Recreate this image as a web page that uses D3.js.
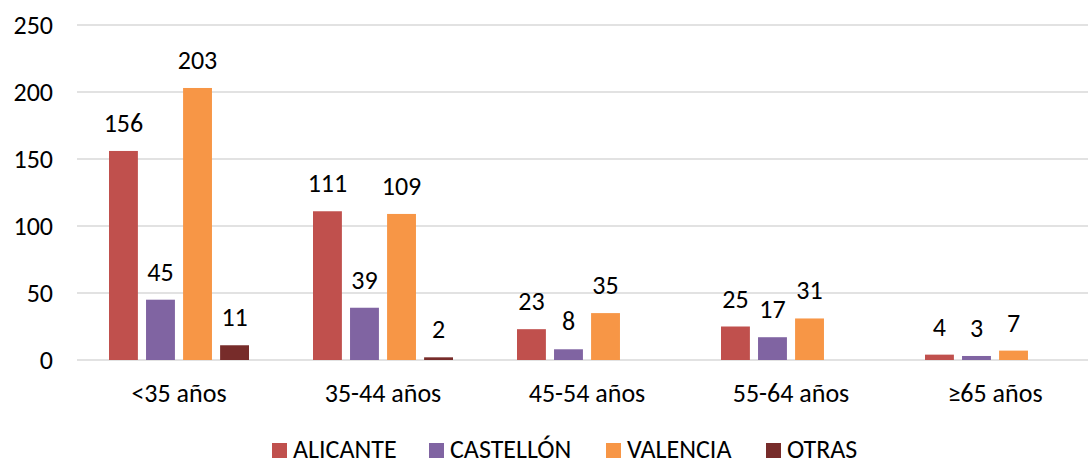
<!DOCTYPE html>
<html><head><meta charset="utf-8">
<script src="https://cdn.jsdelivr.net/npm/d3@7"></script>
<style>body{margin:0;background:#fff}svg{display:block}text{font-family:Carlito,Calibri,Lato,"Noto Sans",sans-serif;fill:#000}</style>
</head><body><svg id="c" width="1088" height="462"></svg>
<script>
const categories = ["<35 años","35-44 años","45-54 años","55-64 años","≥65 años"];
const seriesNames = ["ALICANTE","CASTELLÓN","VALENCIA","OTRAS"];
const alicante = [156,111,23,25,4];
const castellon = [45,39,8,17,3];
const valencia = [203,109,35,31,7];
const otras = [11,2,null,null,null];
const yTicks = [0,50,100,150,200,250];
const colors = ["#C0504D","#8064A2","#F79646","#772C2A"];
const seriesVals = [alicante,castellon,valencia,otras];

const svg = d3.select("#c");
const x0 = d3.scaleBand().domain(categories).range([77,1097]).padding(0);
const x1 = d3.scaleBand().domain(seriesNames).range([32,172]).paddingInner(0.22).paddingOuter(0);
const y = d3.scaleLinear().domain([0,250]).range([360,25]);

const grid = svg.append("g");
grid.selectAll("line").data(yTicks).join("line")
  .attr("x1",77).attr("x2",1088).attr("y1",d=>y(d)).attr("y2",d=>y(d))
  .attr("stroke","#D9D9D9").attr("stroke-width",1.5);

const yAxis = d3.axisLeft(y).tickValues(yTicks).tickSize(0).tickPadding(0);
const ya = svg.append("g").attr("transform","translate(53,0)").call(yAxis);
ya.select(".domain").remove();
ya.selectAll("text").attr("font-size",26).attr("font-family",null).attr("dy","0.32em");

const xAxis = d3.axisBottom(x0).tickSize(0).tickPadding(0);
const xa = svg.append("g").attr("transform","translate(0,402)").call(xAxis);
xa.select(".domain").remove();
xa.selectAll("text").attr("font-size",26).attr("font-family",null).attr("y",0).attr("dy",0);

const data = [];
categories.forEach((c,i)=>seriesNames.forEach((s,j)=>{
  if(seriesVals[j][i]!=null) data.push({c,s,v:seriesVals[j][i],color:colors[j]});
}));
const g = svg.append("g");
g.selectAll("rect").data(data).join("rect")
  .attr("x",d=>x0(d.c)+x1(d.s)).attr("width",x1.bandwidth())
  .attr("y",d=>y(d.v)).attr("height",d=>y(0)-y(d.v)).attr("fill",d=>d.color);
g.selectAll("text").data(data).join("text")
  .attr("x",d=>x0(d.c)+x1(d.s)+x1.bandwidth()/2).attr("y",d=>y(d.v)-19)
  .attr("text-anchor","middle").attr("font-size",26).text(d=>d.v);

const legX = [272,429,606,766];
const leg = svg.append("g");
seriesNames.forEach((s,j)=>{
  leg.append("rect").attr("x",legX[j]).attr("y",443).attr("width",15).attr("height",15).attr("fill",colors[j]);
  leg.append("text").attr("x",legX[j]+21).attr("y",458).attr("font-size",26).text(s);
});
</script></body></html>
